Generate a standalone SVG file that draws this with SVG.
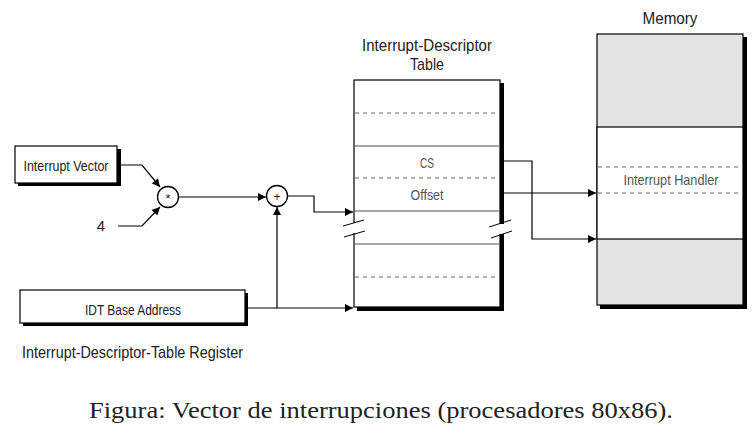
<svg xmlns="http://www.w3.org/2000/svg" width="753" height="440" viewBox="0 0 753 440">
<defs>
<marker id="ah" viewBox="0 0 10 10" refX="10" refY="5" markerWidth="9" markerHeight="8" markerUnits="userSpaceOnUse" orient="auto">
<path d="M0,0 L10,5 L0,10 z" fill="#000"/>
</marker>
</defs>
<style>
.t{font-family:"Liberation Sans",Arial,sans-serif;fill:#222}
.g{fill:#555}
.box{fill:#fff;stroke:#000;stroke-width:1.2}
.sh{fill:#000}
.dash{stroke:#666;stroke-width:1;stroke-dasharray:4,4;fill:none}
.sol{stroke:#888;stroke-width:1.3;fill:none}
.c{fill:none;stroke:#000;stroke-width:1.2}
</style>
<rect width="753" height="440" fill="#fff"/>

<g id="interrupt-vector">
<rect class="sh" x="18" y="149" width="103" height="37"/>
<rect class="box" x="15" y="146" width="102" height="37"/>
<text class="t" x="66" y="170.5" font-size="14.5" text-anchor="middle" textLength="85" lengthAdjust="spacingAndGlyphs">Interrupt Vector</text>
</g>

<g id="four">
<text class="t" x="101" y="231" font-size="15" text-anchor="middle">4</text>
</g>

<g id="mul">
<circle cx="168" cy="197" r="10.5" fill="#fff" stroke="#000" stroke-width="1.3"/>
<text class="t" x="168" y="203" font-size="13" text-anchor="middle" fill="#444">*</text>
</g>

<g id="add">
<circle cx="277" cy="196" r="10.5" fill="#fff" stroke="#000" stroke-width="1.3"/>
<text class="t" x="277" y="200.5" font-size="12" text-anchor="middle" fill="#666">+</text>
</g>

<g id="idt-register">
<rect class="sh" x="23" y="293" width="225" height="33"/>
<rect class="box" x="20" y="290" width="225" height="33"/>
<text class="t" x="133" y="314.5" font-size="14.5" text-anchor="middle" textLength="96" lengthAdjust="spacingAndGlyphs" fill="#444">IDT Base Address</text>
<text class="t" x="22" y="358" font-size="17" textLength="221" lengthAdjust="spacingAndGlyphs" fill="#111">Interrupt-Descriptor-Table Register</text>
</g>

<g id="idt-table">
<text class="t" x="427" y="51" font-size="17" text-anchor="middle" textLength="130" lengthAdjust="spacingAndGlyphs" fill="#111">Interrupt-Descriptor</text>
<text class="t" x="427" y="70" font-size="17" text-anchor="middle" textLength="34" lengthAdjust="spacingAndGlyphs" fill="#111">Table</text>
<rect class="sh" x="357" y="83" width="147" height="228"/>
<rect class="box" x="354" y="80" width="146" height="227"/>
<line class="dash" x1="355" y1="113" x2="499" y2="113"/>
<line class="sol" x1="355" y1="146" x2="499" y2="146"/>
<line class="dash" x1="355" y1="178" x2="499" y2="178"/>
<line class="sol" x1="355" y1="211" x2="499" y2="211"/>
<line class="sol" x1="355" y1="244" x2="499" y2="244"/>
<line class="dash" x1="355" y1="277" x2="499" y2="277"/>
<rect x="350" y="223" width="10" height="10" fill="#fff"/>
<rect x="496" y="224" width="10" height="10" fill="#fff"/>
<line x1="343" y1="226" x2="364" y2="220" stroke="#000" stroke-width="1"/>
<line x1="344" y1="237" x2="365" y2="231" stroke="#000" stroke-width="1"/>
<line x1="489" y1="227" x2="511" y2="220" stroke="#000" stroke-width="1"/>
<line x1="491" y1="238" x2="512" y2="231" stroke="#000" stroke-width="1"/>
<text class="t g" x="427" y="167.5" font-size="14.5" text-anchor="middle" textLength="14" lengthAdjust="spacingAndGlyphs">CS</text>
<text class="t g" x="427" y="199.5" font-size="14.5" text-anchor="middle" textLength="33" lengthAdjust="spacingAndGlyphs">Offset</text>
</g>

<g id="memory">
<text class="t" x="670" y="24" font-size="17" text-anchor="middle" textLength="55" lengthAdjust="spacingAndGlyphs" fill="#111">Memory</text>
<rect class="sh" x="600" y="37" width="147" height="272"/>
<rect x="597" y="34" width="146" height="271" fill="#e3e3e3" stroke="#000" stroke-width="1.2"/>
<rect x="597" y="127" width="146" height="112" fill="#fff" stroke="#000" stroke-width="1.2"/>
<line class="dash" x1="598" y1="167" x2="742" y2="167"/>
<line class="dash" x1="598" y1="193" x2="742" y2="193"/>
<text class="t g" x="671" y="185" font-size="14.5" text-anchor="middle" textLength="95" lengthAdjust="spacingAndGlyphs">Interrupt Handler</text>
</g>

<g id="connectors">
<path class="c" d="M117,165 H142 L160,187" marker-end="url(#ah)"/>
<path class="c" d="M118,226 H142 L160,207" marker-end="url(#ah)"/>
<path class="c" d="M179,197 H266" marker-end="url(#ah)"/>
<path class="c" d="M288,196 H314 V212 H353" marker-end="url(#ah)"/>
<path class="c" d="M248,308 H353" marker-end="url(#ah)"/>
<path class="c" d="M277,308 V207" marker-end="url(#ah)"/>
<path class="c" d="M504,161 H532 V239 H596" marker-end="url(#ah)"/>
<path class="c" d="M504,193 H596" marker-end="url(#ah)"/>
</g>

<g id="caption">
<text x="381" y="418" font-family="'Liberation Serif','Times New Roman',serif" font-size="24" fill="#222" text-anchor="middle" textLength="584" lengthAdjust="spacingAndGlyphs">Figura: Vector de interrupciones (procesadores 80x86).</text>
</g>
</svg>
